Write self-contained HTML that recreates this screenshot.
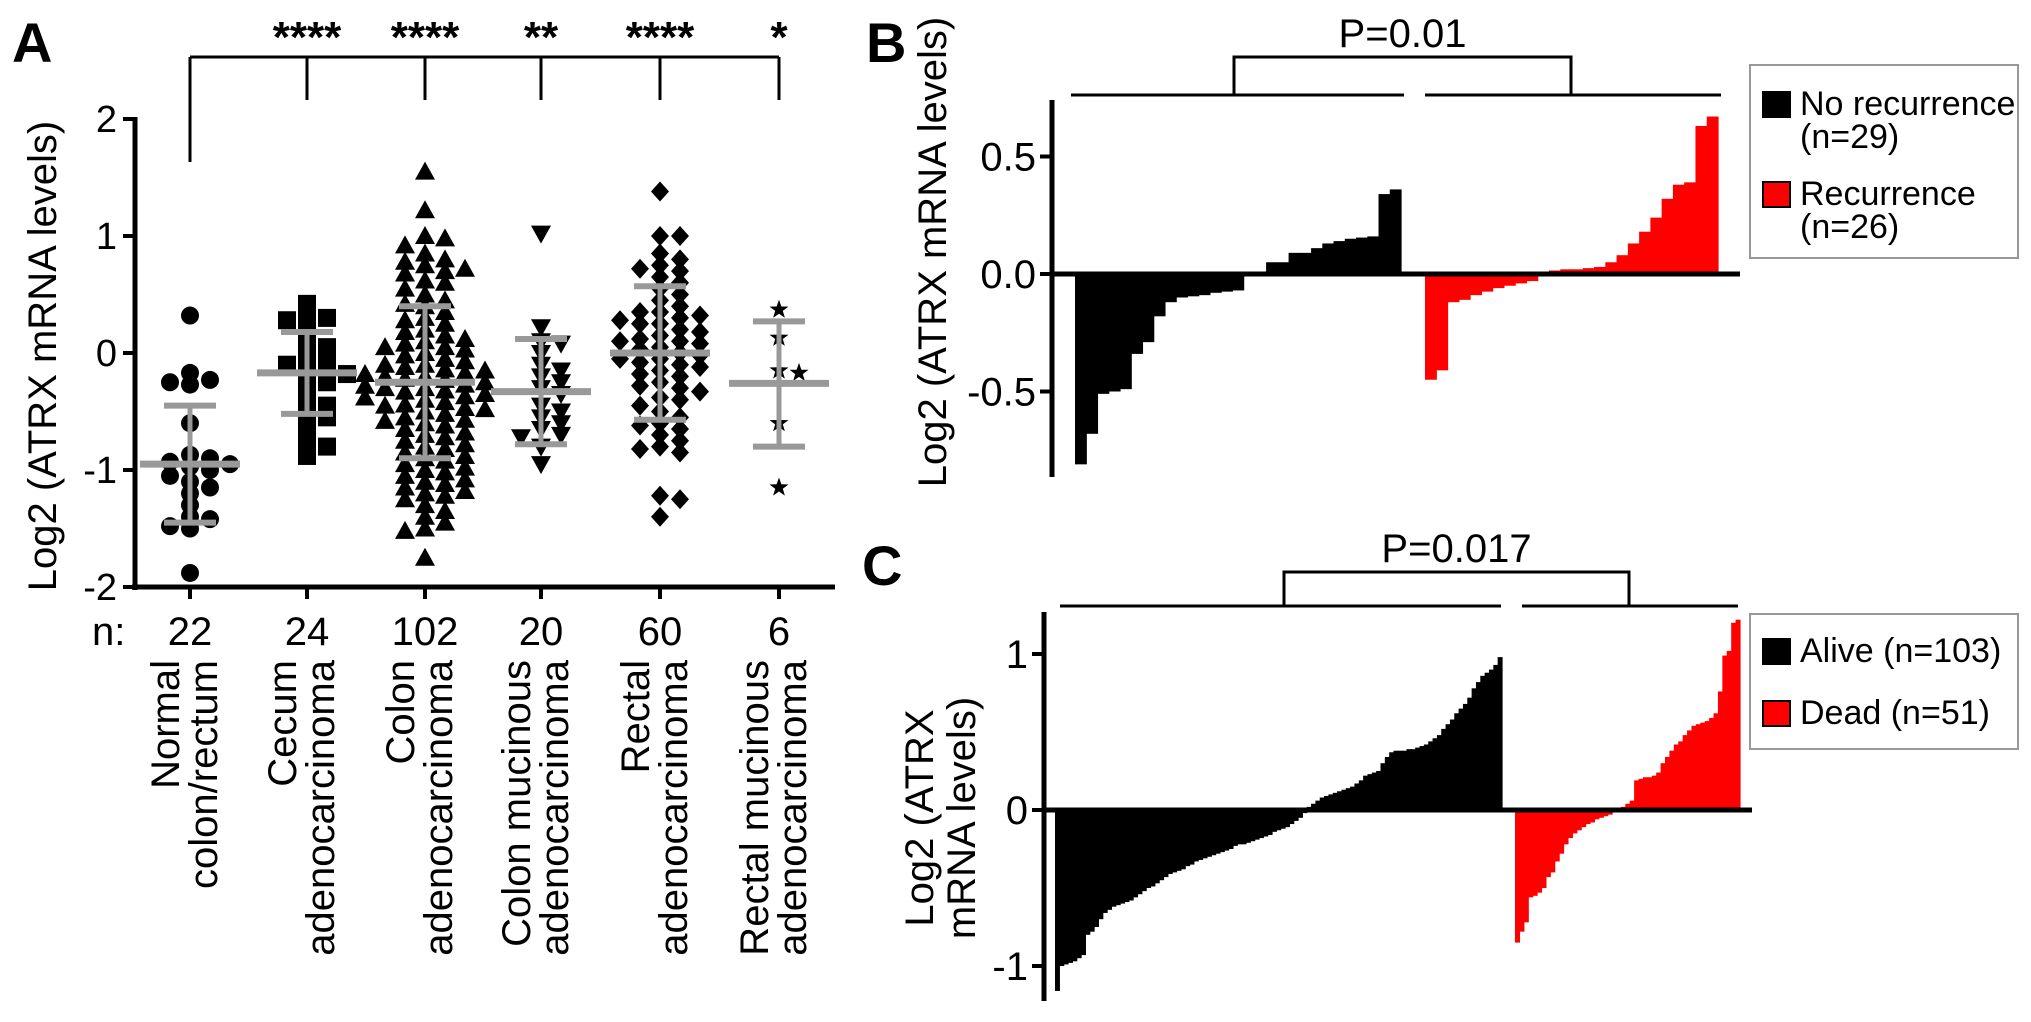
<!DOCTYPE html>
<html><head><meta charset="utf-8"><style>
html,body{margin:0;padding:0;background:#fff;}
svg{display:block;font-family:"Liberation Sans",Arial,sans-serif;}
</style></head><body>
<svg id="fig" width="2031" height="1022" viewBox="0 0 2031 1022" xmlns="http://www.w3.org/2000/svg"></svg>
<script>
// ---------- Panel A data ----------
const catLabels = [["Normal","colon/rectum"],["Cecum","adenocarcinoma"],["Colon","adenocarcinoma"],["Colon mucinous","adenocarcinoma"],["Rectal","adenocarcinoma"],["Rectal mucinous","adenocarcinoma"]];
const catN = ["22","24","102","20","60","6"];
const sigStars = ["","****","****","**","****","*"];
const aTicks = [2,1,0,-1,-2];
const aMean = [-0.95,-0.17,-0.25,-0.33,0.0,-0.26];
const aSdLow = [-1.45,-0.52,-0.9,-0.78,-0.57,-0.8];
const aSdHigh = [-0.45,0.18,0.4,0.12,0.57,0.27];
const grpNormal = [0.32,-0.23,-0.25,-0.17,-0.27,-0.6,-0.87,-0.9,-0.93,-0.95,-0.97,-1.0,-1.05,-1.1,-1.15,-1.2,-1.3,-1.4,-1.42,-1.48,-1.5,-1.88];
const grpCecum = [0.42,0.3,0.32,0.28,0.2,0.1,0.05,0.0,-0.05,-0.1,-0.15,-0.2,-0.18,-0.25,-0.3,-0.4,-0.45,-0.5,-0.55,-0.65,-0.75,-0.8,-0.88,-0.1];
const grpColon = [1.55,1.22,1.0,0.98,0.92,0.85,0.8,0.78,0.75,0.72,0.7,0.68,0.62,0.6,0.55,0.5,0.45,0.42,0.4,0.35,0.3,0.28,0.25,0.2,0.18,0.15,0.12,0.1,0.08,0.05,0.03,0.0,-0.02,-0.05,-0.07,-0.1,-0.12,-0.14,-0.15,-0.17,-0.18,-0.2,-0.22,-0.23,-0.25,-0.27,-0.28,-0.3,-0.32,-0.33,-0.35,-0.37,-0.38,-0.4,-0.42,-0.44,-0.45,-0.47,-0.5,-0.52,-0.55,-0.57,-0.6,-0.62,-0.65,-0.68,-0.7,-0.72,-0.75,-0.78,-0.8,-0.82,-0.85,-0.88,-0.9,-0.92,-0.95,-0.98,-1.0,-1.02,-1.05,-1.08,-1.1,-1.12,-1.15,-1.18,-1.2,-1.22,-1.25,-1.3,-1.35,-1.4,-1.45,-1.5,-1.52,-0.58,-0.48,-0.3,-0.1,0.05,-0.2,-1.75];
const grpColonMuc = [1.02,0.22,0.1,0.08,0.0,-0.1,-0.15,-0.2,-0.25,-0.3,-0.35,-0.45,-0.5,-0.55,-0.6,-0.65,-0.7,-0.72,-0.8,-0.95];
const grpRectal = [1.38,1.0,1.0,0.85,0.8,0.75,0.72,0.7,0.65,0.6,0.55,0.5,0.45,0.4,0.35,0.32,0.3,0.28,0.25,0.2,0.18,0.15,0.12,0.1,0.08,0.05,0.03,0.0,-0.02,-0.05,-0.08,-0.1,-0.12,-0.15,-0.18,-0.2,-0.25,-0.3,-0.33,-0.38,-0.4,-0.45,-0.5,-0.55,-0.6,-0.62,-0.65,-0.7,-0.75,-0.8,-0.82,-0.85,0.25,0.1,-0.05,0.35,-0.28,-1.22,-1.25,-1.4];
const grpRectalMuc = [0.37,0.13,-0.17,-0.15,-0.6,-1.15];
const groups = [grpNormal,grpCecum,grpColon,grpColonMuc,grpRectal,grpRectalMuc];
const markers = ["circle","square","tri-up","tri-down","diamond","star"];
// ---------- Panel B data ----------
const bTicks = [0.5,0.0,-0.5];
const bTickLabels = ["0.5","0.0","-0.5"];
const bNoRec = [-0.81,-0.68,-0.51,-0.50,-0.49,-0.34,-0.29,-0.18,-0.12,-0.10,-0.095,-0.09,-0.08,-0.075,-0.07,-0.005,0.01,0.05,0.05,0.09,0.09,0.11,0.13,0.14,0.15,0.155,0.16,0.34,0.36];
const bRec = [-0.45,-0.41,-0.12,-0.11,-0.09,-0.075,-0.06,-0.05,-0.04,-0.03,0.01,0.015,0.02,0.02,0.025,0.03,0.05,0.08,0.13,0.18,0.24,0.32,0.38,0.39,0.63,0.67];
// ---------- Panel C data ----------
const cTicks = [1,0,-1];
const cAlive = [-1.16,-1.0,-0.99,-0.98,-0.97,-0.95,-0.93,-0.8,-0.78,-0.75,-0.70,-0.66,-0.64,-0.62,-0.61,-0.60,-0.59,-0.58,-0.56,-0.54,-0.52,-0.5,-0.49,-0.47,-0.45,-0.43,-0.41,-0.40,-0.39,-0.38,-0.36,-0.35,-0.33,-0.32,-0.31,-0.30,-0.29,-0.28,-0.27,-0.26,-0.25,-0.23,-0.22,-0.22,-0.21,-0.20,-0.19,-0.18,-0.17,-0.16,-0.14,-0.13,-0.12,-0.11,-0.09,-0.07,-0.05,-0.02,0.02,0.04,0.06,0.08,0.09,0.1,0.11,0.12,0.13,0.14,0.15,0.17,0.19,0.22,0.23,0.24,0.25,0.3,0.34,0.37,0.38,0.38,0.38,0.39,0.39,0.40,0.41,0.42,0.44,0.46,0.48,0.52,0.55,0.58,0.62,0.65,0.68,0.72,0.78,0.82,0.86,0.88,0.90,0.93,0.98];
const cDead = [-0.85,-0.78,-0.72,-0.56,-0.55,-0.53,-0.5,-0.43,-0.40,-0.33,-0.28,-0.22,-0.18,-0.15,-0.13,-0.11,-0.09,-0.08,-0.06,-0.05,-0.04,-0.03,-0.01,0.01,0.02,0.04,0.06,0.19,0.2,0.21,0.21,0.22,0.24,0.3,0.34,0.38,0.42,0.44,0.48,0.51,0.54,0.55,0.56,0.57,0.59,0.62,0.76,0.99,1.02,1.2,1.22];

const NS="http://www.w3.org/2000/svg";
const svg=document.getElementById('fig');
function mk(tag,attrs,parent){const e=document.createElementNS(NS,tag);for(const k in attrs)e.setAttribute(k,attrs[k]);(parent||svg).appendChild(e);return e;}
function txt(s,attrs,parent){const e=mk('text',attrs,parent);e.textContent=s;return e;}

// ===== Panel A =====
const aX0=135,aX1=835,aY0=353,aPU=117;
const ay=v=>aY0-v*aPU;
const catX=[190,307,425,541,660,779];
const ax=i=>catX[i];
let g=mk('g',{});


let t=txt('A',{x:12,y:62,'font-size':56,'font-weight':'bold'},g);


let l=mk('line',{x1:aX0,y1:ay(2)-2,x2:aX0,y2:ay(-2)+3,stroke:'#000','stroke-width':5},g);


l=mk('line',{x1:aX0-3,y1:ay(-2),x2:aX1,y2:ay(-2),stroke:'#000','stroke-width':5},g);


aTicks.forEach(v=>{
  let tk=mk('line',{x1:aX0-12,y1:ay(v),x2:aX0,y2:ay(v),stroke:'#000','stroke-width':4},g);
  
  
  let tl=txt(String(v),{x:aX0-18,y:ay(v)+13,'font-size':38,'text-anchor':'end'},g);
  
  
});
t=txt('Log2 (ATRX mRNA levels)',{x:0,y:0,'font-size':40,'text-anchor':'middle',transform:'translate(56,356) rotate(-90)'},g);


t=txt('n:',{x:92,y:645,'font-size':40},g);


const brY=57;
l=mk('line',{x1:ax(0),y1:brY,x2:ax(5),y2:brY,stroke:'#000','stroke-width':3},g);


catX.forEach((cx,i)=>{
  let d=mk('line',{x1:ax(i),y1:brY,x2:ax(i),y2:i==0?162:100,stroke:'#000','stroke-width':3},g);
  
  
  if(sigStars[i]){
    let s=txt(sigStars[i],{x:ax(i),y:52,'font-size':44,'font-weight':'bold','text-anchor':'middle'},g);
    
    
  }
  let tk=mk('line',{x1:ax(i),y1:ay(-2),x2:ax(i),y2:ay(-2)+12,stroke:'#000','stroke-width':4},g);
  
  
  let n=txt(catN[i],{x:ax(i),y:645,'font-size':40,'text-anchor':'middle'},g);
  
  
  const lines=catLabels[i];
  lines.forEach((ln,j)=>{
    let c=txt(ln,{x:0,y:0,'font-size':40,'text-anchor':'end',transform:`translate(${ax(i)-6+(j-(lines.length-1)/2)*38+14},660) rotate(-90)`},g);
    
    
  });
});
function marker(type,x,y,parent){
  const r=9;let e;
  if(type=='circle')e=mk('circle',{cx:x,cy:y,r:r},parent);
  else if(type=='square')e=mk('rect',{x:x-r,y:y-r,width:2*r,height:2*r},parent);
  else if(type=='tri-up')e=mk('polygon',{points:`${x},${y-r-1} ${x+r+1},${y+r-1} ${x-r-1},${y+r-1}`},parent);
  else if(type=='tri-down')e=mk('polygon',{points:`${x},${y+r+1} ${x+r+1},${y-r+1} ${x-r-1},${y-r+1}`},parent);
  else if(type=='diamond')e=mk('polygon',{points:`${x},${y-r-1} ${x+r},${y} ${x},${y+r+1} ${x-r},${y}`},parent);
  else {let p=[];for(let k=0;k<10;k++){const a=-Math.PI/2+k*Math.PI/5,rr=k%2?4:10;p.push((x+rr*Math.cos(a)).toFixed(1)+','+(y+rr*Math.sin(a)).toFixed(1));}e=mk('polygon',{points:p.join(' ')},parent);}
  e.setAttribute('fill','#000');
  return e;
}
groups.forEach((vals,i)=>{
  const placed=[];
  const sorted=vals.slice().sort((a,b)=>b-a);
  sorted.forEach(v=>{
    const y=ay(v);let off=0;
    for(let k=0;k<40;k++){
      const cand=k==0?0:(k%2?1:-1)*Math.ceil(k/2)*10;
      if(placed.every(p=>Math.abs(p.x-cand)>=14||Math.abs(p.y-y)>=10)){off=cand;break;}
    }
    placed.push({x:off,y:y});
    let m=marker(markers[i],ax(i)+off,y,g);
    
    
  });
});
aMean.forEach((m,i)=>{
  const gc='#999';
  let e=mk('line',{x1:ax(i),y1:ay(aSdLow[i]),x2:ax(i),y2:ay(aSdHigh[i]),stroke:gc,'stroke-width':5},g);
  
  
  [aSdLow[i],aSdHigh[i]].forEach(s=>{
    let c=mk('line',{x1:ax(i)-26,y1:ay(s),x2:ax(i)+26,y2:ay(s),stroke:gc,'stroke-width':6},g);
    
    
  });
  let ml=mk('line',{x1:ax(i)-50,y1:ay(m),x2:ax(i)+50,y2:ay(m),stroke:gc,'stroke-width':7},g);
  
  
});

function waterfall(opt){
  const gg=mk('g',{});
  
  
  const y=v=>opt.y0-v*opt.pu;
  function bars(vals,x0,x1,color,nm){
    const w=(x1-x0)/vals.length;
    vals.forEach((v,k)=>{
      const top=Math.min(y(v),opt.y0),h=Math.abs(y(v)-opt.y0);
      let r=mk('rect',{x:(x0+k*w).toFixed(2),y:top.toFixed(2),width:(w+0.6).toFixed(2),height:Math.max(h,0.5).toFixed(2),fill:color},gg);
      
      
    });
  }
  bars(opt.a,opt.ax0,opt.ax1,'#000',opt.aName);
  bars(opt.b,opt.bx0,opt.bx1,'#f00',opt.bName);
  let e=mk('line',{x1:opt.axisX,y1:opt.yTop,x2:opt.axisX,y2:opt.yBot,stroke:'#000','stroke-width':5},gg);
  
  
  e=mk('line',{x1:opt.axisX,y1:opt.y0,x2:opt.zeroEnd,y2:opt.y0,stroke:'#000','stroke-width':5},gg);
  
  
  opt.ticks.forEach((v,k)=>{
    let tk=mk('line',{x1:opt.axisX-12,y1:y(v),x2:opt.axisX,y2:y(v),stroke:'#000','stroke-width':4},gg);
    
    
    let tl=txt(opt.tickLabels[k],{x:opt.axisX-16,y:y(v)+14,'font-size':40,'text-anchor':'end'},gg);
    
    
  });
  const bk=opt.br;
  let b1=mk('line',{x1:bk.l0,y1:bk.yl,x2:bk.l1,y2:bk.yl,stroke:'#000','stroke-width':3},gg);
  
  
  let b2=mk('line',{x1:bk.r0,y1:bk.yl,x2:bk.r1,y2:bk.yl,stroke:'#000','stroke-width':3},gg);
  
  
  let b3=mk('polyline',{points:`${bk.u0},${bk.yl} ${bk.u0},${bk.yu} ${bk.u1},${bk.yu} ${bk.u1},${bk.yl}`,fill:'none',stroke:'#000','stroke-width':3},gg);
  
  
  let pv=txt(bk.p,{x:(bk.u0+bk.u1)/2,y:bk.yu-10,'font-size':40,'text-anchor':'middle'},gg);
  
  
  const L=opt.leg;
  let bx=mk('rect',{x:L.x,y:L.y,width:L.w,height:L.h,fill:'#fff',stroke:'#999','stroke-width':2},gg);
  
  
  L.items.forEach(it=>{
    let sw=mk('rect',{x:L.x+13,y:it.sy,width:27,height:25,fill:it.c,stroke:'#000','stroke-width':2},gg);
    
    
    it.lines.forEach((s,j)=>{
      let lt=txt(s,{x:L.x+50,y:it.sy+23+j*33,'font-size':34},gg);
      
      
    });
  });
}
waterfall({name:'panel-b',a:bNoRec,b:bRec,ax0:1075,ax1:1401,bx0:1425,bx1:1718,aName:'bar-no-recurrence',bName:'bar-recurrence',
  y0:274,pu:235,axisX:1052,yTop:100,yBot:477,zeroEnd:1740,ticks:bTicks,tickLabels:bTickLabels,
  br:{yl:95,yu:57,l0:1071,l1:1404,r0:1425,r1:1721,u0:1234,u1:1571,p:'P=0.01'},
  leg:{x:1750,y:65,w:268,h:193,items:[{c:'#000',sy:92,lines:['No recurrence','(n=29)']},{c:'#f00',sy:182,lines:['Recurrence','(n=26)']}]}});
waterfall({name:'panel-c',a:cAlive,b:cDead,ax0:1055,ax1:1502,bx0:1515,bx1:1740,aName:'bar-alive',bName:'bar-dead',
  y0:810,pu:156,axisX:1044,yTop:612,yBot:1001,zeroEnd:1752,ticks:cTicks,tickLabels:cTicks.map(String),
  br:{yl:606,yu:572,l0:1060,l1:1501,r0:1522,r1:1738,u0:1284,u1:1629,p:'P=0.017'},
  leg:{x:1750,y:614,w:268,h:135,items:[{c:'#000',sy:639,lines:['Alive (n=103)']},{c:'#f00',sy:701,lines:['Dead (n=51)']}]}});
t=txt('B',{x:866,y:62,'font-size':56,'font-weight':'bold'});


t=txt('C',{x:862,y:585,'font-size':56,'font-weight':'bold'});


t=txt('Log2 (ATRX mRNA levels)',{x:0,y:0,'font-size':40,'text-anchor':'middle',transform:'translate(946,252) rotate(-90)'});


t=txt('Log2 (ATRX',{x:0,y:0,'font-size':40,'text-anchor':'middle',transform:'translate(933,818) rotate(-90)'});


t=txt('mRNA levels)',{x:0,y:0,'font-size':40,'text-anchor':'middle',transform:'translate(975,818) rotate(-90)'});


</script>
</body></html>
